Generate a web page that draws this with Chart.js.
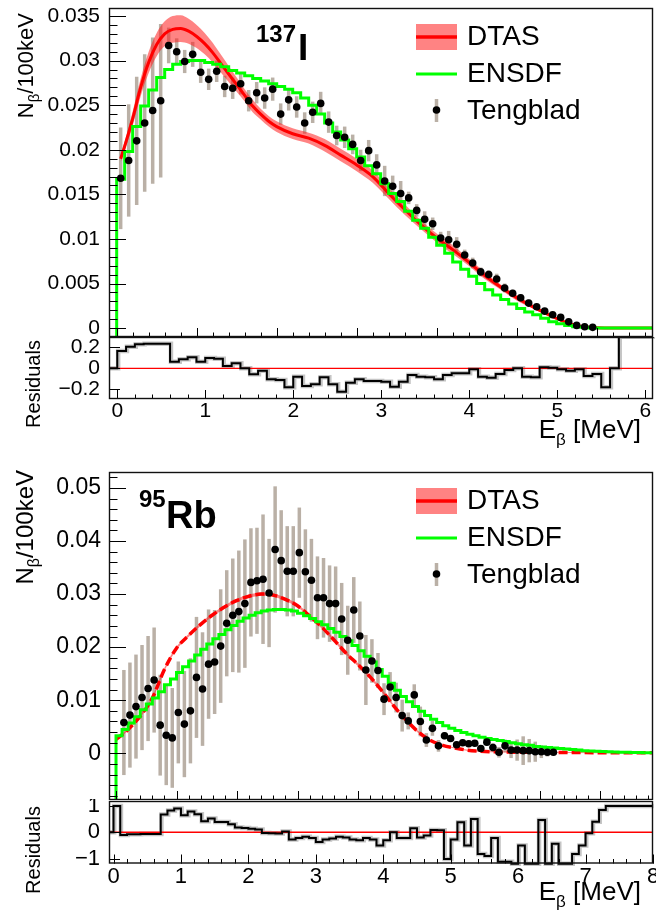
<!DOCTYPE html>
<html><head><meta charset="utf-8">
<script src="https://cdn.jsdelivr.net/npm/chart.js@4.4.1/dist/chart.umd.min.js"></script>
<style>
body{margin:0;background:#fff}
#wrap{position:relative;width:656px;height:913px;overflow:hidden;background:#fff}
canvas{position:absolute;left:0}
</style>
</head><body><div id="wrap">
<canvas id="c1" width="656" height="337" style="top:0;width:656px;height:337px"></canvas>
<canvas id="c2" width="656" height="120" style="top:337px;width:656px;height:120px"></canvas>
<canvas id="c3" width="656" height="360" style="top:440px;width:656px;height:360px"></canvas>
<canvas id="c4" width="656" height="114" style="top:799px;width:656px;height:114px"></canvas>
</div>
<script>
// ================= DATA =================
// ---- 137I (energies in MeV) ----
const I137_binWidth = 0.1;
const I137_tengStart = 0.05;
const I137_teng = [0.0168,0.0188,0.0210,0.0230,0.0244,0.0255,0.0317,0.0310,0.0299,0.0307,
  0.0287,0.0279,0.0288,0.0271,0.0269,0.0274,0.0255,0.0264,0.0258,0.0268,
  0.0240,0.0256,0.0248,0.0230,0.0242,0.0252,0.0231,0.0216,0.0214,0.0206,
  0.0188,0.0199,0.0183,0.0165,0.0159,0.0151,0.0146,0.0132,0.0122,0.0117,
  0.0101,0.0099,0.0094,0.0082,0.0073,0.0063,0.0060,0.0055,0.0045,0.0039,
  0.0034,0.0028,0.0024,0.0019,0.0015,0.0012,0.0007,0.0003,0.00015,0.00008];
const I137_tengErr = [0.0057,0.0063,0.0072,0.0077,0.0082,0.0086,0.0020,0.0015,0.0013,0.0014,
  0.0012,0.0012,0.0012,0.0012,0.0012,0.0012,0.0012,0.0012,0.0012,0.0013,
  0.0012,0.0012,0.0012,0.0012,0.0012,0.0013,0.0012,0.0011,0.0012,0.0011,
  0.0012,0.0012,0.0012,0.0017,0.0012,0.0014,0.0007,0.0007,0.0009,0.0007,
  0.0007,0.0010,0.0008,0.0006,0.0006,0.0005,0.0005,0.0006,0.0005,0.0004,
  0.0004,0.0004,0.0003,0.0003,0.0003,0.0002,0.0002,0.0002,0.0001,0.0001];
const I137_ensdf = [0.0167,0.0198,0.0226,0.0249,0.0267,0.0281,0.0290,0.0296,0.0299,0.0300,
  0.0300,0.0298,0.0296,0.0293,0.0289,0.0286,0.0283,0.0280,0.0277,0.0274,
  0.0271,0.0268,0.0264,0.0258,0.0250,0.0240,0.0230,0.0220,0.0211,0.0201,
  0.0192,0.0182,0.0173,0.0162,0.0151,0.0142,0.0131,0.0121,0.0112,0.0102,
  0.0093,0.0084,0.0074,0.0066,0.0058,0.0050,0.0043,0.0037,0.0032,0.0027,
  0.0022,0.0018,0.0015,0.0011,0.0007,0.0005,0.0003,0.00015,0.00008,0,
  0,0,0,0,0,0,0];
const I137_dtasE = [0.05,0.1,0.2,0.3,0.4,0.5,0.6,0.7,0.8,0.9,1.0,1.1,1.2,1.3,1.4,1.5,1.6,1.7,1.8,1.9,
  2.0,2.2,2.4,2.6,2.8,3.0,3.2,3.4,3.6,3.8,4.0,4.2,4.4,4.6,4.8,5.0,5.2,5.4,5.6,5.8,6.0,6.2,6.704];
const I137_dtas = [0.0190,0.0204,0.0235,0.0270,0.0298,0.0318,0.0330,0.0335,0.0336,0.0333,
  0.0327,0.0319,0.0309,0.0297,0.0285,0.0273,0.0261,0.0249,0.0240,0.0232,
  0.0226,0.0218,0.0213,0.0205,0.0194,0.0183,0.0170,0.0151,0.0133,0.0116,
  0.0101,0.0088,0.0074,0.0059,0.0046,0.0034,0.0024,0.0015,0.0007,0.0002,0.00005,0,0];
const I137_dtasErr = [0.0004,0.0005,0.0008,0.0010,0.0012,0.0013,0.0014,0.0015,0.0015,0.0014,
  0.0013,0.0012,0.0011,0.0010,0.0009,0.0008,0.0007,0.0007,0.0006,0.0006,
  0.0006,0.0006,0.0006,0.0007,0.0007,0.0007,0.0007,0.0006,0.0006,0.0005,
  0.0005,0.0005,0.0004,0.0004,0.0003,0.0003,0.0002,0.0002,0.0001,0.0001,0,0,0];
const I137_resid = [0.165,0.206,0.228,0.234,0.234,0.234,0.063,0.086,0.105,0.063,
  0.098,0.092,0.022,0.048,0.0,-0.057,-0.023,-0.105,-0.111,-0.181,
  -0.08,-0.168,-0.152,-0.086,-0.152,-0.222,-0.137,-0.105,-0.121,-0.121,
  -0.128,-0.175,-0.128,-0.064,-0.08,-0.086,-0.105,-0.064,-0.048,-0.048,
  -0.01,-0.08,-0.089,-0.054,-0.016,0.0,-0.08,-0.086,0.01,0.006,
  -0.01,-0.022,-0.01,-0.073,-0.054,-0.181,0.0,0.3,0.3,0.3,0.3];

// ---- 95Rb ----
const Rb95_binWidth = 0.1;
const Rb95_tengStart = 0.13;
const Rb95_teng = [0.0058,0.0072,0.0088,0.0105,0.0122,0.0138,0.0053,0.0034,0.0029,0.0077,
  0.0055,0.0080,0.0143,0.0121,0.0168,0.0172,0.0202,0.0245,0.0260,0.0267,
  0.0282,0.0322,0.0325,0.0328,0.0302,0.0384,0.0363,0.0343,0.0343,0.0378,
  0.0342,0.0326,0.0293,0.0293,0.0282,0.0282,0.0253,0.0213,0.0270,0.0221,
  0.0157,0.0174,0.0156,0.0102,0.0125,0.0105,0.0071,0.0061,0.0110,0.0060,
  0.0025,0.0047,0.0014,0.0033,0.0028,0.0016,0.0020,0.0018,0.0019,0.0009,
  0.0021,0.0011,0.0002,0.0014,0.0006,0.0006,0.0005,0.0005,0.0003,0.0003,0.0002,0.0002];
const Rb95_tengErr = [0.0099,0.0099,0.0098,0.0099,0.0099,0.0099,0.0095,0.0094,0.0094,0.0096,
  0.0100,0.0099,0.0114,0.0107,0.0103,0.0098,0.0107,0.0100,0.0107,0.0115,
  0.0121,0.0102,0.0100,0.0122,0.0102,0.0119,0.0095,0.0085,0.0085,0.0085,
  0.0080,0.0078,0.0078,0.0075,0.0072,0.0070,0.0068,0.0065,0.0062,0.0065,
  0.0066,0.0041,0.0033,0.0030,0.0028,0.0028,0.0030,0.0016,0.0020,0.0028,
  0.0013,0.0014,0.0011,0.0007,0.0006,0.0006,0.0006,0.0006,0.0006,0.0006,
  0.0006,0.0008,0.0010,0.0012,0.0015,0.0020,0.0027,0.0022,0.0019,0.0012,0.0008,0.0005];
const Rb95_ensdf = [0.0033,0.0045,0.0057,0.0069,0.0082,0.0093,0.0104,0.0116,0.0129,0.0140,
  0.0152,0.0163,0.0174,0.0185,0.0196,0.0206,0.0216,0.0224,0.0233,0.0241,
  0.0249,0.0255,0.0260,0.0265,0.0268,0.0270,0.0271,0.0271,0.0270,0.0268,
  0.0264,0.0259,0.0254,0.0248,0.0242,0.0235,0.0228,0.0220,0.0212,0.0203,
  0.0193,0.0183,0.0172,0.0158,0.0145,0.0132,0.0119,0.0107,0.0097,0.0088,
  0.0079,0.0071,0.0064,0.0058,0.0052,0.0047,0.0043,0.0039,0.0036,0.0033,
  0.0030,0.0028,0.0026,0.0024,0.0022,0.0020,0.0018,0.0016,0.0015,0.0013,
  0.0012,0.0011,0.0010,0.0009,0.0008,0.0007,0.0006,0.0005,0.00045,0.0004,
  0.00035,0.0003,0.00025,0.0002,0.0002,0.00015,0.00015,0.0001,0.0001];
const Rb95_dtasE = [0,0.2,0.4,0.6,0.8,1.0,1.2,1.4,1.6,1.8,2.0,2.2,2.4,2.6,2.8,3.0,3.2,3.4,3.6,3.8,
  4.0,4.2,4.4,4.6,4.8,5.0,5.2,5.4,5.6,5.8,6.0,6.4,7.0,8.0,8.876];
const Rb95_dtas = [0.0026,0.0045,0.0070,0.0104,0.0158,0.0198,0.0222,0.0243,0.0261,0.0276,
  0.0288,0.0296,0.0300,0.0298,0.0290,0.0278,0.0259,0.0238,0.0214,0.0189,
  0.0167,0.0144,0.0117,0.0088,0.0062,0.0040,0.0024,0.0015,0.0010,0.0006,
  0.0004,0.00025,0.0002,0.00012,0.0001];
const Rb95_dtasErr = [0.0002,0.0002,0.0002,0.0003,0.0003,0.0003,0.0003,0.0003,0.0003,0.0003,
  0.0003,0.0003,0.0003,0.0003,0.0003,0.0003,0.0003,0.0003,0.0003,0.0003,
  0.0003,0.0003,0.0003,0.0002,0.0002,0.0002,0.0001,0.0001,0.0001,0.0001,
  0.0001,0.0001,0.0001,0.0001,0.0001];
const Rb95_resid = [1.0,-0.10,-0.08,-0.08,-0.07,-0.07,-0.07,0.68,0.83,0.90,
  0.65,0.79,0.69,0.42,0.52,0.39,0.39,0.30,0.18,0.16,
  0.13,0.10,-0.03,-0.04,-0.05,0.03,-0.28,-0.22,-0.17,-0.22,
  -0.37,-0.28,-0.24,-0.17,-0.20,-0.28,-0.30,-0.22,-0.28,-0.50,
  -0.30,0.0,-0.22,-0.22,0.15,-0.20,-0.12,0.09,0.08,-1.02,
  -0.28,0.38,-0.50,0.50,-0.83,-0.90,-0.22,-1.12,-1.12,-1.2,
  -0.50,-1.2,-1.2,0.47,-1.2,-0.44,-1.2,-1.2,-0.83,-0.50,
  -0.04,0.40,0.85,1.0,1.0,1.0,1.0,1.0,1.0,1.0];

const legendLabels = ['DTAS','ENSDF','Tengblad'];
const xTitle = ['E','\u03b2',' [MeV]'];
const yTitle = ['N','\u03b2','/100keV'];
const residTitle = 'Residuals';

// ================= STYLE / HELPERS =================
const FONT = '"Liberation Sans", Arial, Helvetica, sans-serif';
Chart.defaults.font.family = FONT;
Chart.defaults.color = '#000';
Chart.defaults.animation = false;
const RED = '#ff0000', GREEN = '#00ff00', BAND = 'rgba(255,30,30,0.55)', ERRC = '#bab0a6';

function fmt(v){ const s = String(+(+v).toFixed(6)); return s.replace('-', '\u2212'); }

function richText(ctx, parts, x, y, align, rotate){
  ctx.save(); ctx.translate(x, y); if (rotate) ctx.rotate(-Math.PI/2);
  let total = 0;
  parts.forEach(p => { ctx.font = (p.bold?'bold ':'') + p.size + 'px ' + FONT; p.w = ctx.measureText(p.t).width; total += p.w; });
  let cx = align === 'right' ? -total : (align === 'center' ? -total/2 : 0);
  ctx.textAlign = 'left'; ctx.textBaseline = 'alphabetic'; ctx.fillStyle = '#000';
  parts.forEach(p => { ctx.font = (p.bold?'bold ':'') + p.size + 'px ' + FONT; ctx.fillText(p.t, cx, p.dy || 0); cx += p.w; });
  ctx.restore();
}

function binCenters(start, width, n){ const a=[]; for(let i=0;i<n;i++) a.push(+(start+i*width).toFixed(4)); return a; }
function pairs(xs, ys){ return ys.map((y,i)=>({x:xs[i], y})); }
function histPoints(width, vals, firstX, firstY){
  const pts = [{x:firstX, y:firstY}];
  vals.forEach((v,i)=>pts.push({x:+(i*width).toFixed(4), y:v}));
  pts.push({x:+(vals.length*width).toFixed(4), y:vals[vals.length-1]});
  return pts;
}

function yAxis(min, max, step, size, pad){ return {
  type:'linear', min, max, position:'left',
  afterFit: s => { s.width = 109; s.paddingTop = 0; s.paddingBottom = 0; },
  grid:{display:false, drawTicks:false}, border:{display:false},
  ticks:{stepSize:step, includeBounds:false, padding:pad, font:{size}, color:'#000', autoSkip:false, callback:v=>fmt(v)}
};}
function xAxisLab(min, max, size, height, pad){ return {
  type:'linear', min, max, position:'bottom',
  afterFit: s => { s.height = height; s.paddingLeft = 0; s.paddingRight = 0; },
  grid:{display:false, drawTicks:false}, border:{display:false},
  ticks:{stepSize:1, includeBounds:false, padding:pad, font:{size}, color:'#000', maxRotation:0, autoSkip:false, callback:v=>fmt(v)}
};}

function framePlugin(spec){ return {
  id:'frame'+Math.random().toString(36).slice(2),
  afterDatasetsDraw(chart){
    const {ctx, chartArea:a} = chart; const xs = chart.scales.x, ys = chart.scales.y;
    ctx.save(); ctx.strokeStyle = '#000'; ctx.lineWidth = 1;
    const tick = (scale, step, len, isX) => {
      const i0 = Math.ceil(scale.min/step - 1e-6), i1 = Math.floor(scale.max/step + 1e-6);
      for (let i=i0;i<=i1;i++){
        const p = Math.round(scale.getPixelForValue(i*step)) + 0.5;
        ctx.beginPath();
        if (isX){ ctx.moveTo(p, a.bottom); ctx.lineTo(p, a.bottom - len); }
        else { ctx.moveTo(a.left, p); ctx.lineTo(a.left + len, p); }
        ctx.stroke();
      }
    };
    if (spec.xMinor) tick(xs, spec.xMinor, spec.xMinorLen, true);
    tick(xs, spec.xMajor, spec.xMajorLen, true);
    if (spec.yMinor) tick(ys, spec.yMinor, spec.yMinorLen, false);
    tick(ys, spec.yMajor, spec.yMajorLen, false);
    ctx.lineWidth = 1.4; ctx.strokeStyle = '#111';
    ctx.strokeRect(a.left+0.5, a.top+0.5, a.right-a.left-1, a.bottom-a.top-1);
    ctx.restore();
  }
};}

const errPlugin = {
  id:'errBars',
  beforeDatasetsDraw(chart){
    const {ctx, chartArea:a} = chart; const xs = chart.scales.x, ys = chart.scales.y;
    chart.data.datasets.forEach(ds => {
      if (!ds.errorBars) return;
      ctx.save(); ctx.beginPath(); ctx.rect(a.left, a.top, a.right-a.left, a.bottom-a.top); ctx.clip();
      ctx.strokeStyle = ERRC; ctx.lineWidth = 3.5;
      ds.data.forEach((pt,j) => {
        const e = ds.errorBars[j]; const x = xs.getPixelForValue(pt.x);
        ctx.beginPath(); ctx.moveTo(x, ys.getPixelForValue(pt.y - e)); ctx.lineTo(x, ys.getPixelForValue(pt.y + e)); ctx.stroke();
      });
      ctx.restore();
    });
  }
};

function legendDraw(ctx, left, top){
  const sx = left + 307, sw = 41, tx = left + 358;
  ctx.save();
  ctx.fillStyle = BAND; ctx.fillRect(sx, top + 16, sw, 26);
  ctx.strokeStyle = RED; ctx.lineWidth = 3.5; ctx.beginPath(); ctx.moveTo(sx, top+29); ctx.lineTo(sx+sw, top+29); ctx.stroke();
  ctx.strokeStyle = GREEN; ctx.lineWidth = 3; ctx.beginPath(); ctx.moveTo(sx, top+66); ctx.lineTo(sx+sw, top+66); ctx.stroke();
  ctx.strokeStyle = ERRC; ctx.lineWidth = 3.5; ctx.beginPath(); ctx.moveTo(sx+sw/2, top+91); ctx.lineTo(sx+sw/2, top+114); ctx.stroke();
  ctx.fillStyle = '#000'; ctx.beginPath(); ctx.arc(sx+sw/2, top+102, 3.8, 0, Math.PI*2); ctx.fill();
  ctx.restore();
  richText(ctx, [{t:legendLabels[0], size:28}], tx, top+37, 'left');
  richText(ctx, [{t:legendLabels[1], size:28}], tx, top+74, 'left');
  richText(ctx, [{t:legendLabels[2], size:28}], tx, top+111, 'left');
}

function mainDatasets(tengX, teng, tengErr, ensPts, dE, d, dErr, dashed){
  return [
    {type:'scatter', label:legendLabels[2], data:pairs(tengX, teng), errorBars:tengErr, showLine:false,
      pointRadius:3.8, pointBackgroundColor:'#000', pointBorderWidth:0, order:0},
    {type:'line', label:legendLabels[1], data:ensPts, stepped:true, borderColor:GREEN, borderWidth:3, pointRadius:0, fill:false, order:1},
    {type:'line', label:legendLabels[0], data:pairs(dE, d), borderColor:RED, borderWidth:dashed?3.5:3, borderDash:dashed?[9,4]:[],
      pointRadius:0, fill:false, cubicInterpolationMode:'monotone', order:2},
    {type:'line', data:pairs(dE, d.map((v,i)=>v+dErr[i])), borderWidth:0, pointRadius:0, fill:'+1', backgroundColor:BAND, cubicInterpolationMode:'monotone', order:3},
    {type:'line', data:pairs(dE, d.map((v,i)=>v-dErr[i])), borderWidth:0, pointRadius:0, fill:false, cubicInterpolationMode:'monotone', order:4}
  ];
}
function residDatasets(width, vals, xmin, xmax){
  const pts = histPoints(width, vals, xmin, 0);
  return [
    {type:'line', data:pts, stepped:true, borderColor:'#000', borderWidth:2, pointRadius:0, fill:false, clip:3, order:0},
    {type:'line', data:[{x:xmin,y:0},{x:xmax,y:0}], borderColor:RED, borderWidth:1.3, pointRadius:0, fill:false, order:1},
    {type:'line', data:pts.map(p=>({x:p.x+0.01, y:p.y})), stepped:true, borderColor:'rgba(150,150,150,0.55)', borderWidth:4.5, pointRadius:0, fill:false, clip:3, order:2}
  ];
}
const baseOpts = { responsive:false, maintainAspectRatio:false, animation:false, events:[],
  plugins:{legend:{display:false}, tooltip:{enabled:false}} };

// ================= PANEL 1 : 137I =================
const m1 = {xmin:-0.096, xmax:6.704, ymin:-0.001, ymax:0.0359};
new Chart(document.getElementById('c1'), {
  type:'line',
  data:{datasets: mainDatasets(binCenters(I137_tengStart, I137_binWidth, I137_teng.length), I137_teng, I137_tengErr,
      histPoints(I137_binWidth, I137_ensdf, 0, m1.ymin), I137_dtasE, I137_dtas, I137_dtasErr, false)},
  options:{...baseOpts, layout:{autoPadding:false, padding:{top:8, right:3, bottom:0, left:0}},
    scales:{ x:{type:'linear', min:m1.xmin, max:m1.xmax, display:false}, y:yAxis(m1.ymin, m1.ymax, 0.005, 21, 9) }},
  plugins:[errPlugin, framePlugin({xMajor:1, xMajorLen:9, xMinor:0.2, xMinorLen:4.5, yMajor:0.005, yMajorLen:17, yMinor:0.001, yMinorLen:8.5}),
    {id:'t1', afterDraw(chart){ const ctx = chart.ctx, a = chart.chartArea;
      richText(ctx, [{t:yTitle[0],size:22},{t:yTitle[1],size:15,dy:6},{t:yTitle[2],size:22}], 33, 13, 'right', true);
      richText(ctx, [{t:'137', size:24, bold:true}], 256, 42, 'left');
      richText(ctx, [{t:'I', size:37, bold:true}], 298, 60, 'left');
      legendDraw(ctx, a.left, a.top);
    }}]
});

// residual 1
const r1 = {xmin:-0.094, xmax:6.088, ymin:-0.292, ymax:0.298};
new Chart(document.getElementById('c2'), {
  type:'line',
  data:{datasets: residDatasets(I137_binWidth, I137_resid, r1.xmin, r1.xmax)},
  options:{...baseOpts, layout:{autoPadding:false, padding:{top:0, right:3, bottom:0, left:0}},
    scales:{ x:xAxisLab(r1.xmin, r1.xmax, 21, 58, 0), y:yAxis(r1.ymin, r1.ymax, 0.2, 21, 9) }},
  plugins:[framePlugin({xMajor:1, xMajorLen:9, xMinor:0.2, xMinorLen:4.5, yMajor:0.2, yMajorLen:11}),
    {id:'t2', afterDraw(chart){ const ctx = chart.ctx;
      richText(ctx, [{t:residTitle, size:20}], 40, 47, 'center', true);
      richText(ctx, [{t:xTitle[0],size:26},{t:xTitle[1],size:17,dy:7},{t:xTitle[2],size:26}], 641, 101, 'right');
    }}]
});

// ================= PANEL 2 : 95Rb =================
const m2 = {xmin:-0.116, xmax:8.876, ymin:-0.0088, ymax:0.053};
new Chart(document.getElementById('c3'), {
  type:'line',
  data:{datasets: mainDatasets(binCenters(Rb95_tengStart, Rb95_binWidth, Rb95_teng.length), Rb95_teng, Rb95_tengErr,
      histPoints(Rb95_binWidth, Rb95_ensdf, 0, m2.ymin), Rb95_dtasE, Rb95_dtas, Rb95_dtasErr, true)},
  options:{...baseOpts, layout:{autoPadding:false, padding:{top:32, right:3, bottom:0, left:0}},
    scales:{ x:{type:'linear', min:m2.xmin, max:m2.xmax, display:false}, y:yAxis(m2.ymin, m2.ymax, 0.01, 23, 8) }},
  plugins:[errPlugin, framePlugin({xMajor:1, xMajorLen:9, xMinor:0.2, xMinorLen:4.5, yMajor:0.01, yMajorLen:17, yMinor:0.002, yMinorLen:8.5}),
    {id:'t3', afterDraw(chart){ const ctx = chart.ctx, a = chart.chartArea;
      richText(ctx, [{t:yTitle[0],size:24},{t:yTitle[1],size:16,dy:6},{t:yTitle[2],size:24}], 33, 30, 'right', true);
      richText(ctx, [{t:'95', size:24, bold:true}], 139, 67, 'left');
      richText(ctx, [{t:'Rb', size:38, bold:true}], 166, 88, 'left');
      legendDraw(ctx, a.left, a.top);
    }}]
});

// residual 2
const r2 = {xmin:-0.067, xmax:8.0, ymin:-1.19, ymax:1.19};
new Chart(document.getElementById('c4'), {
  type:'line',
  data:{datasets: residDatasets(Rb95_binWidth, Rb95_resid, r2.xmin, r2.xmax)},
  options:{...baseOpts, layout:{autoPadding:false, padding:{top:2, right:3, bottom:0, left:0}},
    scales:{ x:xAxisLab(r2.xmin, r2.xmax, 22, 49.5, 0), y:yAxis(r2.ymin, r2.ymax, 1, 22, 9) }},
  plugins:[framePlugin({xMajor:1, xMajorLen:9, xMinor:0.2, xMinorLen:4.5, yMajor:1, yMajorLen:11}),
    {id:'t4', afterDraw(chart){ const ctx = chart.ctx;
      richText(ctx, [{t:residTitle, size:20}], 40, 51, 'center', true);
      richText(ctx, [{t:xTitle[0],size:26},{t:xTitle[1],size:17,dy:7},{t:xTitle[2],size:26}], 641, 101, 'right');
    }}]
});
</script>
</body></html>
